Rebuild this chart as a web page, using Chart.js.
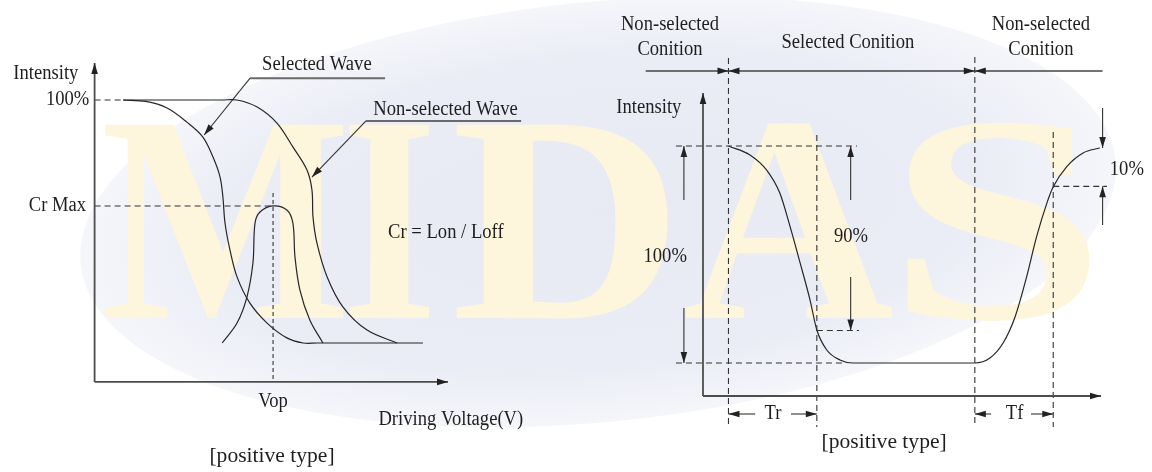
<!DOCTYPE html>
<html>
<head>
<meta charset="utf-8">
<script src="https://cdn.jsdelivr.net/npm/chart.js@4.4.1/dist/chart.umd.min.js"></script>
<style>
  html, body { margin: 0; background: #fff; }
  canvas { display: block; }
</style>
</head>
<body>
<canvas id="c" width="1152" height="472"></canvas>
<script>
// ---- left diagram: driving voltage (relative 0..100) vs intensity (%) ----
const selVolt = [8.1, 14.5, 20.5, 26.1, 30.6, 33.5, 35.5, 36.3, 36.9, 38.3, 40.3, 43.9, 48.8, 54.4, 59.0, 63.0, 92.9];
const selInt  = [100, 99.4, 96.7, 90.9, 84.8, 76.5, 68.3, 60.1, 49.4, 38.3, 27.2, 16.5, 8.2, 2.1, 0, 0, 0];
const nonVolt = [8.1, 36.0, 40.3, 46.0, 51.6, 56.1, 60.1, 61.5, 61.8, 62.9, 65.8, 70.3, 77.1, 85.6];
const nonInt  = [100, 100, 100, 97.1, 90.5, 80.7, 71.2, 63.0, 51.9, 41.2, 27.2, 14.8, 5.3, 0];
const crVolt  = [36.1, 40.3, 43.1, 44.8, 45.4, 46.8, 50.5, 54.4, 56.1, 56.7, 58.1, 60.9, 64.6];
const crInt   = [0, 8.2, 18.9, 32.9, 49.4, 53.9, 56.4, 54.7, 49.4, 35.4, 21.8, 9.5, 0];
const vop = 50.5;
const crMax = 56.4;

// ---- right diagram: time (relative 0..100) vs intensity (%) ----
const respTime = [6.4, 11.8, 16.0, 19.3, 21.9, 24.4, 26.9, 28.6, 31.1, 34.4, 37.7, 68.3, 72.1, 75.4, 78.4, 81.3, 83.8, 86.4, 88.0, 91.4, 95.5, 99.7];
const respInt  = [100, 95.9, 88.9, 78.3, 62.7, 46.1, 29.0, 15.2, 6.0, 1.4, 0, 0, 2.3, 9.2, 21.2, 39.6, 58.1, 73.7, 81.2, 90.5, 96.8, 99.1];
const tOn = 6.4, tOn90 = 28.6, tOff = 68.3, tOff10 = 88.0;
const level90 = 15, level10 = 81.4;

// text labels: [text, side, x, y, align, size]
const labels = [
  ['Intensity', 'L', -13.8, 111, 'center'],
  ['100%', 'L', -1.5, 100, 'right'],
  ['Cr Max', 'L', -2.4, 56.4, 'right'],
  ['Selected Wave', 'L', 62.9, 114.4, 'center'],
  ['Non-selected Wave', 'L', 99.3, 95.9, 'center'],
  ['Cr = Lon / Loff', 'L', 99.4, 45.3, 'center'],
  ['Vop', 'L', 50.5, -24.3, 'center'],
  ['Driving Voltage(V)', 'L', 100.8, -31.7, 'center'],
  ['[positive type]', 'L', 50.2, -46.5, 'center', 22],
  ['Non-selected', 'R', -8.3, 155.8, 'center'],
  ['Conition', 'R', -8.3, 144.2, 'center'],
  ['Selected Conition', 'R', 36.4, 147.5, 'center'],
  ['Non-selected', 'R', 84.9, 155.8, 'center'],
  ['Conition', 'R', 84.9, 144.2, 'center'],
  ['Intensity', 'R', -13.6, 117.5, 'center'],
  ['100%', 'R', -9.5, 48.8, 'center'],
  ['90%', 'R', 37.2, 58.1, 'center'],
  ['10%', 'R', 106.5, 88.9, 'center'],
  ['Tr', 'R', 17.6, -23.5, 'center'],
  ['Tf', 'R', 78.3, -23.5, 'center'],
  ['[positive type]', 'R', 45.5, -36.4, 'center', 22]
];

const W = 1152, H = 472;
const FONT = '"Liberation Serif", "DejaVu Serif", serif';

// scale range so that value v0 sits at pixel p0 and v1 at p1
function fitX(v0, p0, v1, p1) {
  const k = (p1 - p0) / (v1 - v0);
  const min = v0 - p0 / k;
  return { min: min, max: min + W / k };
}
function fitY(v0, p0, v1, p1) {
  const k = (p0 - p1) / (v1 - v0);
  const max = v0 + p0 / k;
  return { min: max - H / k, max: max };
}

function line(xs, ys, side, style) {
  return Object.assign({
    data: xs.map((x, i) => ({ x: x, y: ys[i] })),
    xAxisID: side === 'L' ? 'xv' : 'xt',
    yAxisID: side === 'L' ? 'yl' : 'yr',
    showLine: true,
    pointRadius: 0,
    borderColor: '#2b2b2b',
    borderWidth: 1.2,
    fill: false
  }, style || {});
}

const curve = { tension: 0.35, borderColor: '#262626', borderWidth: 1.2 };
const monoCurve = { cubicInterpolationMode: 'monotone', borderColor: '#262626', borderWidth: 1.2 };
const axisStyle = { borderColor: '#4d4d4d', borderWidth: 1.8, arrowEnd: true };
const dash = { borderDash: [6, 4], borderColor: '#333', borderWidth: 1.1 };
const fineDash = { borderDash: [4, 3], borderColor: '#333', borderWidth: 1.1 };
const arrow = { borderColor: '#333', borderWidth: 1.1, arrowEnd: true };
const underline = { borderColor: '#6a6a6a', borderWidth: 2 };

const datasets = [
  // left
  line([0, 0], [-16, 115.2], 'L', axisStyle),
  line([0, 100], [-16, -16], 'L', axisStyle),
  line([0, 7.5], [100, 100], 'L', dash),
  line([0, vop], [crMax, crMax], 'L', dash),
  line([vop, vop], [61.7, -16], 'L', fineDash),
  line(selVolt, selInt, 'L', curve),
  line(nonVolt, nonInt, 'L', curve),
  line(crVolt, crInt, 'L', curve),
  line([44.0, 31.0], [109, 85.6], 'L', arrow),
  line([44.0, 82.2], [109, 109], 'L', underline),
  line([76.8, 61.5], [91.4, 68.3], 'L', arrow),
  line([76.8, 120.7], [91.4, 91.4], 'L', underline),
  // right
  line([0, 0], [-15.2, 124.4], 'R', axisStyle),
  line([0, 100], [-15.2, -15.2], 'R', axisStyle),
  line([-6.8, 38.7], [100, 100], 'R', dash),
  line([-6.8, 35.9], [0, 0], 'R', dash),
  line([tOn90, 39.2], [level90, level90], 'R', dash),
  line([tOff10, 101.5], [level10, level10], 'R', dash),
  line([tOn, tOn], [140.6, -29.5], 'R', dash),
  line([tOn90, tOn90], [105.1, -29.5], 'R', dash),
  line([tOff, tOff], [141, -29.5], 'R', dash),
  line([tOff10, tOff10], [106.5, -29.5], 'R', dash),
  line(respTime, respInt, 'R', monoCurve),
  line([-4.8, -4.8], [75.1, 100], 'R', arrow),
  line([-4.8, -4.8], [25.3, 0], 'R', arrow),
  line([37.1, 37.1], [75.1, 100], 'R', arrow),
  line([37.1, 37.1], [39.6, level90], 'R', arrow),
  line([100.4, 100.4], [117.5, 99.1], 'R', arrow),
  line([100.4, 100.4], [63.6, level10], 'R', arrow),
  line([-14.4, tOn], [134.6, 134.6], 'R', { borderColor: '#444', borderWidth: 1.5, arrowEnd: true }),
  line([tOn, tOff], [134.6, 134.6], 'R', { borderColor: '#444', borderWidth: 1.5, arrowEnd: true, arrowStart: true }),
  line([100.4, tOff], [134.6, 134.6], 'R', { borderColor: '#444', borderWidth: 1.5, arrowEnd: true }),
  line([13.1, tOn], [-23.5, -23.5], 'R', arrow),
  line([22.1, tOn90], [-23.5, -23.5], 'R', arrow),
  line([72.4, tOff], [-23.5, -23.5], 'R', arrow),
  line([82.4, tOff10], [-23.5, -23.5], 'R', arrow)
];

// pale ellipse and MIDAS watermark behind everything
const backdrop = {
  id: 'backdrop',
  beforeDraw(chart) {
    const ctx = chart.ctx;
    ctx.save();
    ctx.translate(598, 212);
    ctx.rotate(-0.1);
    ctx.scale(1, 210 / 520);
    const g = ctx.createRadialGradient(0, 0, 0, 0, 0, 520);
    g.addColorStop(0, 'rgb(231,233,243)');
    g.addColorStop(0.75, 'rgb(235,237,246)');
    g.addColorStop(1, 'rgb(245,246,250)');
    ctx.fillStyle = g;
    ctx.beginPath();
    ctx.arc(0, 0, 520, 0, Math.PI * 2);
    ctx.fill();
    ctx.restore();

    ctx.save();
    ctx.font = 'bold 295px ' + FONT;
    ctx.fillStyle = 'rgb(253,245,220)';
    [['M', 105, 345], ['I', 349, 430], ['D', 456, 672], ['A', 683, 893], ['S', 905, 1090]].forEach(function (l) {
      const m = ctx.measureText(l[0]);
      const w = m.actualBoundingBoxLeft + m.actualBoundingBoxRight;
      ctx.save();
      ctx.translate(l[1], 318);
      ctx.scale((l[2] - l[1]) / w, 1);
      ctx.fillText(l[0], m.actualBoundingBoxLeft, 0);
      ctx.restore();
    });
    ctx.restore();
  }
};

const arrowHeads = {
  id: 'arrowHeads',
  afterDatasetsDraw(chart) {
    const ctx = chart.ctx;
    chart.data.datasets.forEach(function (ds, i) {
      if (!ds.arrowEnd && !ds.arrowStart) return;
      const pts = chart.getDatasetMeta(i).data;
      const n = pts.length;
      function head(tip, from) {
        const a = Math.atan2(tip.y - from.y, tip.x - from.x);
        ctx.save();
        ctx.translate(tip.x, tip.y);
        ctx.rotate(a);
        ctx.beginPath();
        ctx.moveTo(0, 0);
        ctx.lineTo(-11, -3.3);
        ctx.lineTo(-11, 3.3);
        ctx.closePath();
        ctx.fillStyle = '#222';
        ctx.fill();
        ctx.restore();
      }
      if (ds.arrowEnd) head(pts[n - 1], pts[n - 2]);
      if (ds.arrowStart) head(pts[0], pts[1]);
    });
  }
};

const textLabels = {
  id: 'textLabels',
  afterDatasetsDraw(chart) {
    const ctx = chart.ctx;
    ctx.save();
    ctx.fillStyle = '#1e1e1e';
    ctx.textBaseline = 'middle';
    labels.forEach(function (l) {
      const xs = chart.scales[l[1] === 'L' ? 'xv' : 'xt'];
      const ys = chart.scales[l[1] === 'L' ? 'yl' : 'yr'];
      const px = xs.getPixelForValue(l[2]);
      const py = ys.getPixelForValue(l[3]);
      const size = l[5] || 20;
      ctx.font = size + 'px ' + FONT;
      ctx.textAlign = l[4];
      ctx.save();
      ctx.translate(px, py);
      ctx.scale(l[5] ? 0.98 : 0.93, 1);
      ctx.fillText(l[0], 0, 0);
      ctx.restore();
    });
    ctx.restore();
  }
};

const sx = fitX(0, 94.6, 100, 448);
const sy = fitY(0, 343, 100, 100);
const tx = fitX(0, 703, 100, 1101);
const ty = fitY(0, 363, 100, 146);

new Chart(document.getElementById('c').getContext('2d'), {
  type: 'scatter',
  data: { datasets: datasets },
  options: {
    responsive: false,
    animation: false,
    events: [],
    layout: { padding: 0 },
    plugins: { legend: { display: false }, tooltip: { enabled: false }, title: { display: false } },
    scales: {
      xv: { type: 'linear', display: false, min: sx.min, max: sx.max, bounds: 'data' },
      yl: { type: 'linear', display: false, min: sy.min, max: sy.max, bounds: 'data' },
      xt: { type: 'linear', display: false, min: tx.min, max: tx.max, bounds: 'data' },
      yr: { type: 'linear', display: false, min: ty.min, max: ty.max, bounds: 'data' }
    }
  },
  plugins: [backdrop, arrowHeads, textLabels]
});
</script>
</body>
</html>
